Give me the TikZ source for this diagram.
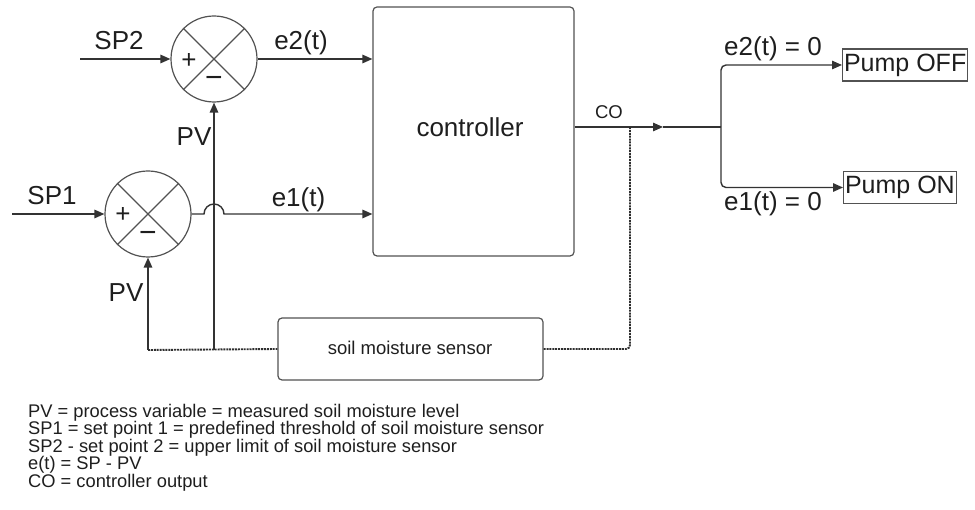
\documentclass[tikz,border=0pt]{standalone}
\usepackage{fontspec}
\setmainfont{Liberation Sans}
\usetikzlibrary{arrows.meta,calc}
\definecolor{ln}{HTML}{333333}
\definecolor{tx}{HTML}{1E1E1E}
\newcommand{\legfont}{\fontsize{18.3}{17.4}\selectfont\setlength{\lineskiplimit}{-20pt}}
\begin{document}
\begin{tikzpicture}[x=1pt,y=-1pt,
  line/.style={draw=ln, line width=1.4pt},
  arr/.style={line, -{Triangle[length=10pt,width=8.5pt]}},
  dots/.style={draw=ln!90!black, line width=1.9pt, dash pattern=on 2pt off 0.9pt},
  sumnode/.style={circle, draw=ln!85, line width=1.2pt, minimum size=86pt, inner sep=0pt},
  diag/.style={draw=ln!85, line width=1.2pt},
  lbl/.style={text=tx, font=\fontsize{26}{30}\selectfont, inner sep=0pt, anchor=base},
  small/.style={text=tx, font=\fontsize{18.5}{22}\selectfont, inner sep=0pt, anchor=base},
  plus/.style={text=tx, font=\fontsize{26}{28}\selectfont, inner sep=0pt},
  minus/.style={text=tx, font=\fontsize{30}{32}\selectfont, inner sep=0pt},
  blk/.style={draw=ln!85, line width=1.2pt, rounded corners=4pt, inner sep=0pt},
  pump/.style={draw=ln!85, line width=1.1pt, text=tx, font=\fontsize{25}{28}\selectfont, inner xsep=1.5pt, inner ysep=0pt, minimum height=32pt, anchor=west}
]
\useasboundingbox (0,0) rectangle (975,510);

% summing junctions
\node[sumnode] (s2) at (214,59) {};
\node[sumnode] (s1) at (148,214) {};
\draw[diag] (s2.45) -- (s2.225) (s2.135) -- (s2.315);
\draw[diag] (s1.45) -- (s1.225) (s1.135) -- (s1.315);
\node[plus] (p2) at ($(s2)+(-25,2)$) {+};
\node[minus] (m2) at ($(s2)+(0,23)$) {−};
\node[plus] (p1) at ($(s1)+(-25,1)$) {+};
\node[minus] (m1) at ($(s1)+(0,23)$) {−};

% blocks
\node[blk, minimum width=201pt, minimum height=249pt] (ctl) at (473.5,131.5) {};
\node[text=tx, font=\fontsize{26}{30}\selectfont, inner sep=0pt, anchor=base] (ctltxt) at (470,137) {controller};
\node[blk, minimum width=265pt, minimum height=62pt] (sens) at (410.5,349) {};
\node[small] (senstxt) at (410,355) {soil moisture sensor};
\node[pump] (poff) at (842,65) {Pump OFF};
\node[pump] (pon) at (843,187.5) {Pump ON};

% coordinates
\coordinate (sp2in) at (80,59);
\coordinate (sp1in) at (12,214);
\coordinate (fb1) at (148,350);
\coordinate (fb2) at (214,350);
\coordinate (coy) at (0,127);
\coordinate (coA) at (ctl.east |- coy);
\coordinate (mid) at (663,127);
\coordinate (tap) at (630,127);
\coordinate (br) at (721,127);

% connectors
\draw[arr] (sp2in) -- (s2);
\draw[arr] (sp1in) -- (s1);
\draw[arr] (s2) -- (s2 -| ctl.west);
\draw[arr] (s1.east) -- (204,214) arc[start angle=180, end angle=360, radius=10] -- (s1 -| ctl.west);
\draw[dots] (fb1) -- (sens.west);
\draw[arr] (fb1) -- (s1);
\draw[arr] (fb2) -- (s2);
\draw[arr] (coA) -- (mid);
\draw[line] (mid) -- (br);
\draw[dots, rounded corners=4pt] (tap) |- (sens.east);
\draw[arr, rounded corners=5pt] (br) |- (poff.west);
\draw[arr, rounded corners=5pt] (br) |- (pon.west);

% labels
\node[lbl] (lsp2) at (119,50) {SP2};
\node[lbl] (le2) at (301,50) {e2(t)};
\node[lbl] (lpv2) at (194,146) {PV};
\node[lbl] (lsp1) at (52,205) {SP1};
\node[lbl] (le1) at (298.5,207) {e1(t)};
\node[lbl] (lpv1) at (126,302) {PV};
\node[small] (lco) at (609,119) {CO};
\node[lbl] (le20) at (773,56) {e2(t) = 0};
\node[lbl] (le10) at (773,211) {e1(t) = 0};

% legend
\node[text=tx, font=\legfont, align=left, inner sep=0pt, anchor=north west] (legend) at (28,404)
{PV = process variable = measured soil moisture level\\
SP1 = set point 1 = predefined threshold of soil moisture sensor\\
SP2 - set point 2 = upper limit of soil moisture sensor\\
e(t) = SP - PV\\
CO = controller output};
\end{tikzpicture}
\end{document}
